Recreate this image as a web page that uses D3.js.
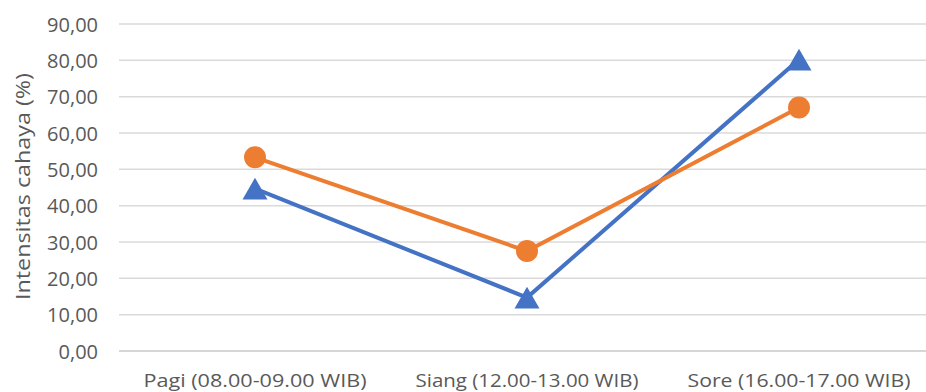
<!DOCTYPE html>
<html><head><meta charset="utf-8">
<script src="https://cdn.jsdelivr.net/npm/d3@7"></script>
<style>body{margin:0;background:#fff;overflow:hidden}</style>
</head><body>
<svg id="c" width="926" height="392"></svg>
<script>
const categories = ["Pagi (08.00-09.00 WIB)", "Siang (12.00-13.00 WIB)", "Sore (16.00-17.00 WIB)"];
const seriesBlue = [44.7, 14.7, 80.2];
const seriesOrange = [53.3, 27.5, 67.0];
const yTicks = [0, 10, 20, 30, 40, 50, 60, 70, 80, 90];
const yTitle = "Intensitas cahaya (%)";

const svg = d3.select("#c");
const font = "'Open Sans', sans-serif";
const x = d3.scaleBand().domain(categories).range([119, 935]);
const y = d3.scaleLinear().domain([0, 90]).range([351, 24]);
const fmt = v => d3.format(".2f")(v).replace(".", ",");

// grid
svg.append("g").selectAll("line").data(yTicks).join("line")
  .attr("x1", 119).attr("x2", 935)
  .attr("y1", d => y(d)).attr("y2", d => y(d))
  .attr("stroke", d => d === 0 ? "#c8c8c8" : "#dadada").attr("stroke-width", 1.5);

const yAxis = d3.axisLeft(y).tickValues(yTicks).tickFormat(fmt).tickSize(0).tickPadding(21);
const gy = svg.append("g").attr("transform", "translate(119,0)").call(yAxis);
gy.select(".domain").remove();
gy.selectAll("text").attr("fill", "#595959").attr("font-size", 20).attr("font-family", font)
  .attr("dy", "0.36em");

const xAxis = d3.axisBottom(x).tickSize(0).tickPadding(0);
const gx = svg.append("g").attr("transform", "translate(0,351)").call(xAxis);
gx.select(".domain").remove();
gx.selectAll("text").attr("fill", "#595959").attr("font-size", 19).attr("font-family", font)
  .attr("y", 36).attr("dy", 0)
  .attr("textLength", 223).attr("lengthAdjust", "spacingAndGlyphs");

svg.append("text").attr("transform", "translate(30,186.5) rotate(-90)")
  .attr("text-anchor", "middle")
  .attr("fill", "#595959").attr("font-size", 20).attr("font-family", font)
  .attr("textLength", 227).attr("lengthAdjust", "spacingAndGlyphs").text(yTitle);

const cx = c => x(c) + x.bandwidth() / 2;
const line = d3.line().x((d, i) => cx(categories[i])).y(d => y(d));

svg.append("path").datum(seriesBlue).attr("d", line).attr("fill", "none")
  .attr("stroke", "#4472C4").attr("stroke-width", 4);
svg.append("path").datum(seriesOrange).attr("d", line).attr("fill", "none")
  .attr("stroke", "#ED7D31").attr("stroke-width", 4);

const triSize = 270;
const triH = Math.sqrt(triSize * 4 / Math.sqrt(3)) * Math.sqrt(3) / 2;
const tri = d3.symbol().type(d3.symbolTriangle).size(triSize);
svg.append("g").selectAll("path").data(seriesBlue).join("path")
  .attr("d", tri)
  .attr("transform", (d, i) => `translate(${cx(categories[i])},${y(d) + triH / 6})`)
  .attr("fill", "#4472C4");

svg.append("g").selectAll("circle").data(seriesOrange).join("circle")
  .attr("cx", (d, i) => cx(categories[i])).attr("cy", d => y(d)).attr("r", 11)
  .attr("fill", "#ED7D31");
</script>
</body></html>
